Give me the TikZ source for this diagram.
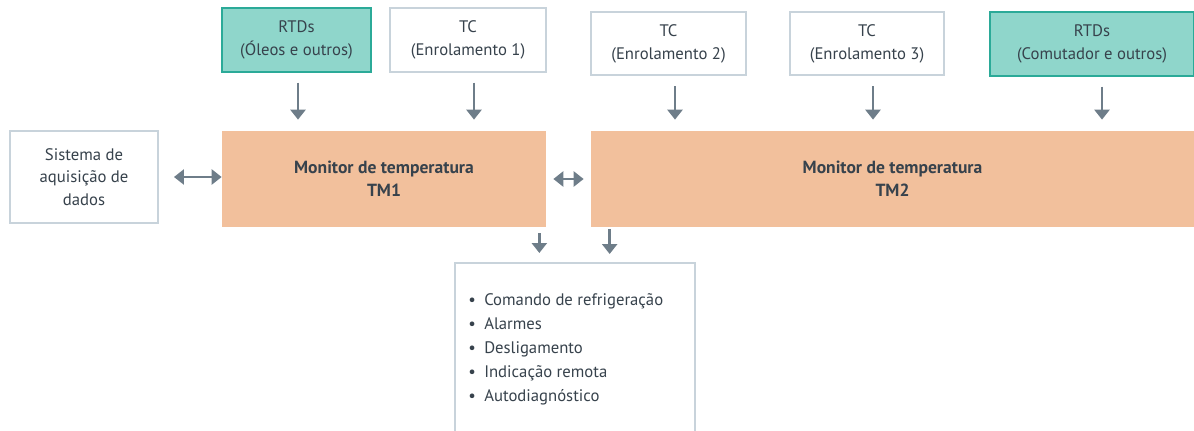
\documentclass[tikz,border=0pt]{standalone}
\usepackage{fontspec}
\setmainfont{PT Sans}
\usetikzlibrary{arrows.meta}

\definecolor{tealfill}{HTML}{8FD6CB}
\definecolor{tealline}{HTML}{2BAA98}
\definecolor{boxgray}{HTML}{C8D3DB}
\definecolor{monfill}{HTML}{F2C09C}
\definecolor{arrgray}{HTML}{6E7D89}
\definecolor{txtgray}{HTML}{37424C}

\begin{document}
\begin{tikzpicture}[
    every node/.style={font=\fontsize{9.5}{13}\selectfont, text=txtgray},
    sensor/.style={draw=boxgray, line width=1.1pt, fill=white, minimum height=1.27cm, align=center},
    rtd/.style={sensor, draw=tealline, fill=tealfill},
    monitor/.style={fill=monfill, minimum height=1.92cm, align=center, font=\fontsize{10}{13}\selectfont\bfseries},
    arr/.style={-{Triangle[length=0.2cm,width=0.3cm]}, line width=1.6pt, draw=arrgray},
    dblarr/.style={{Triangle[length=0.2cm,width=0.3cm]}-{Triangle[length=0.2cm,width=0.3cm]}, line width=1.6pt, draw=arrgray}
]

    % Fix the frame of the picture (boxes at the right and bottom run out of it)
    \useasboundingbox (0,0) rectangle (23.88,-8.6);
    \clip (0,0) rectangle (23.88,-8.6);

    % Draw the sensor boxes along the top
    \node[rtd, minimum width=2.98cm] (rtd1) at (5.93,-0.80) {RTDs\\(Óleos e outros)};
    \node[sensor, minimum width=3.12cm] (tc1) at (9.36,-0.80) {TC\\(Enrolamento 1)};
    \node[sensor, minimum width=3.10cm] (tc2) at (13.37,-0.87) {TC\\(Enrolamento 2)};
    \node[sensor, minimum width=3.08cm] (tc3) at (17.34,-0.87) {TC\\(Enrolamento 3)};
    \node[rtd, minimum width=4.08cm] (rtd2) at (21.84,-0.88) {RTDs\\(Comutador e outros)};

    % Draw the data acquisition box and the two monitors
    \node[sensor, minimum width=2.96cm, minimum height=1.84cm] (sis) at (1.68,-3.54) {Sistema de\\aquisição de\\dados};
    \node[monitor, minimum width=6.48cm] (tm1) at (7.68,-3.58) {Monitor de temperatura\\TM1};
    \node[monitor, minimum width=12.06cm] (tm2) at (17.85,-3.58) {Monitor de temperatura\\TM2};

    % Draw the output box and its list
    \node[sensor, anchor=north west, minimum width=4.80cm, minimum height=3.8cm] (out) at (9.08,-5.24) {};
    \node[anchor=north west, inner sep=0pt, align=left, font=\fontsize{9.5}{13.7}\selectfont] (items) at ([xshift=0.28cm,yshift=-0.62cm]out.north west)
        {\textbullet\hspace{0.5em}Comando de refrigeração\\
         \textbullet\hspace{0.5em}Alarmes\\
         \textbullet\hspace{0.5em}Desligamento\\
         \textbullet\hspace{0.5em}Indicação remota\\
         \textbullet\hspace{0.5em}Autodiagnóstico};

    % Arrows from the sensors into the monitors
    \foreach \src/\dx/\dst in {rtd1/0.03/tm1, tc1/0.12/tm1, tc2/0.13/tm2, tc3/0.12/tm2, rtd2/0.2/tm2}
        \draw[arr, shorten <=0.2cm, shorten >=0.22cm] ([xshift=\dx cm]\src.south) -- ([xshift=\dx cm]\src.south |- \dst.north);

    % Two-way links
    \draw[dblarr, shorten <=0.3cm] (sis.east) -- (sis.east -| tm1.west);
    \draw[dblarr, shorten <=0.14cm, shorten >=0.14cm] (tm1.east) -- (tm2.west);

    % Arrows from the monitors to the outputs
    \draw[arr, shorten <=0.12cm, shorten >=0.18cm] ([xshift=-0.14cm]tm1.south east) -- ([xshift=-0.14cm]tm1.south east |- out.north);
    \draw[arr, shorten <=0.04cm, shorten >=0.16cm] ([xshift=0.38cm]tm2.south west) -- ([xshift=0.38cm]tm2.south west |- out.north);

\end{tikzpicture}
\end{document}
